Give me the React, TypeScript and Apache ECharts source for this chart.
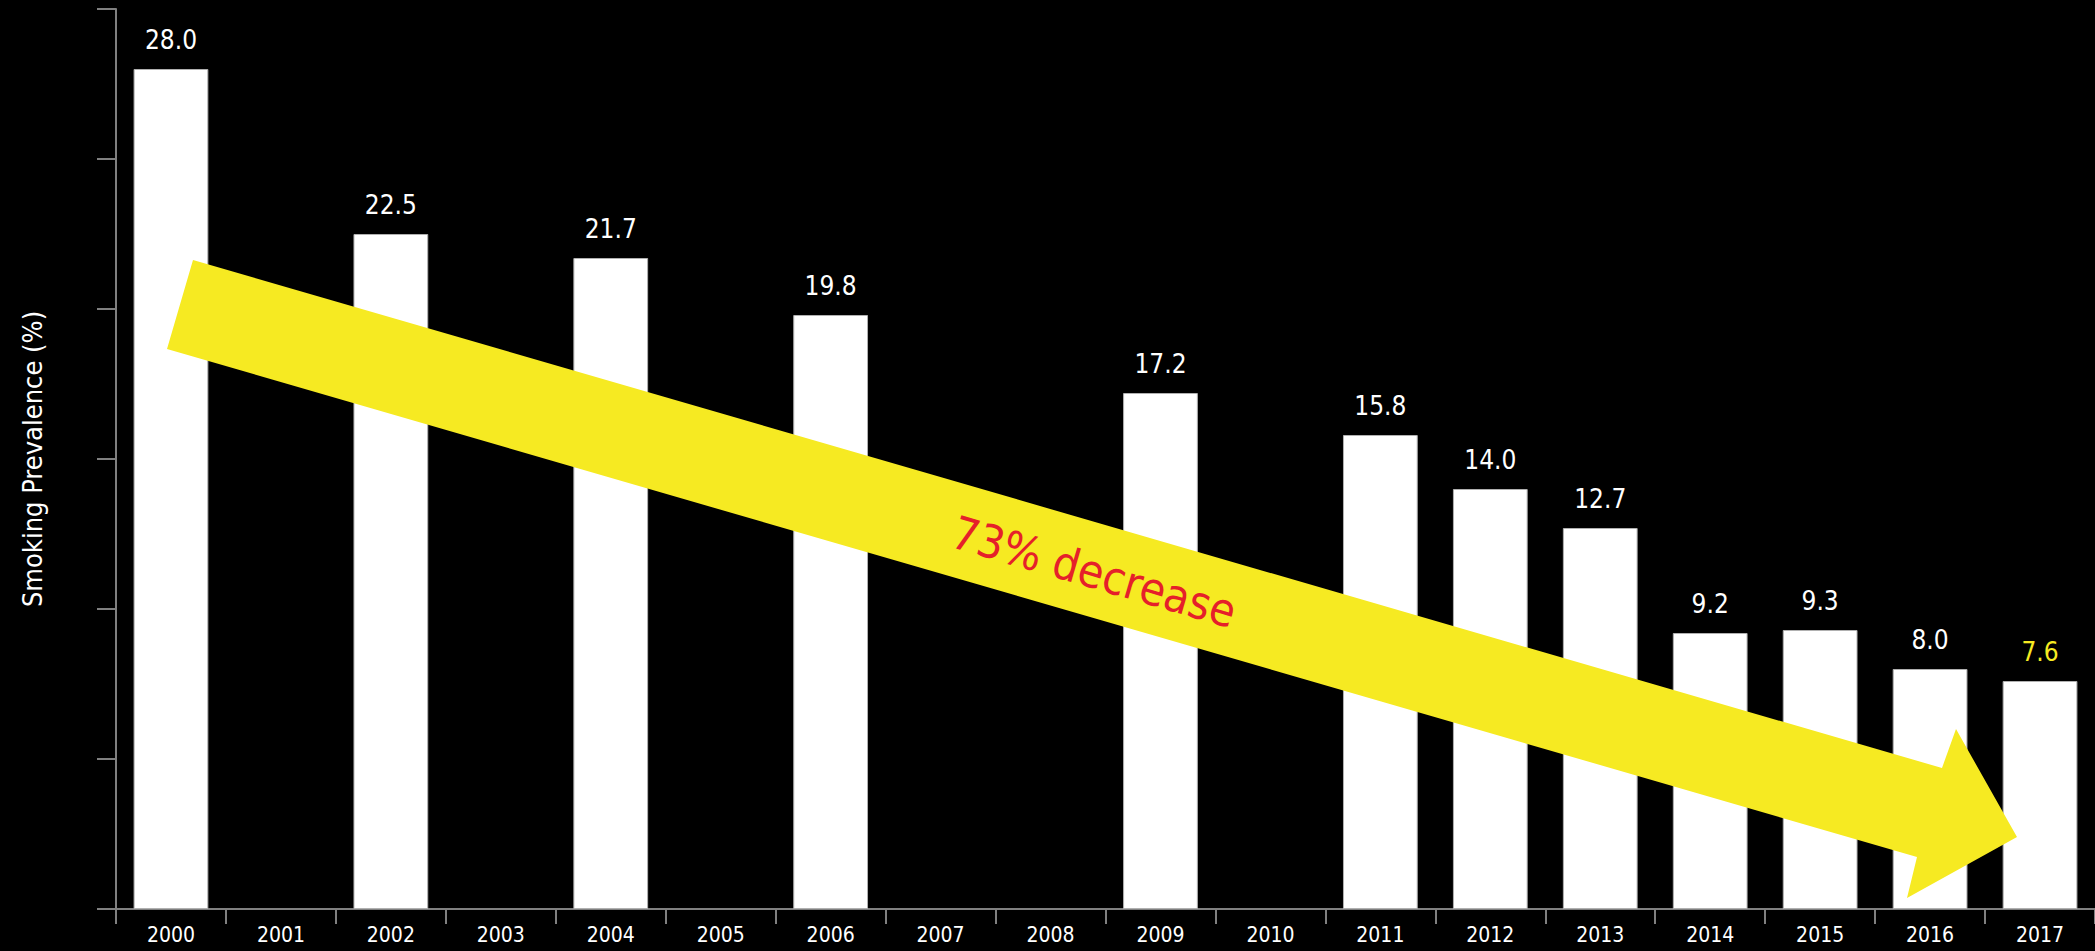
import React, { useEffect, useRef } from "react";
import * as echarts from "echarts";

const years = ["2000","2001","2002","2003","2004","2005","2006","2007","2008","2009","2010","2011","2012","2013","2014","2015","2016","2017"];
const prevalence: (number | null)[] = [28.0, null, 22.5, null, 21.7, null, 19.8, null, null, 17.2, null, 15.8, 14.0, 12.7, 9.2, 9.3, 8.0, 7.6];
const highlightYear = "2017";
const yTicks = { min: 0, max: 30, interval: 5 };
const annotationText = "73% decrease";

const FONT = '"Liberation Sans Narrow", "DejaVu Sans Condensed", "Roboto", sans-serif';
const AXIS_GRAY = "#808080";
const YELLOW = "#F6EA22";

export default function App() {
  const ref = useRef<HTMLDivElement>(null);
  useEffect(() => {
    document.body.style.margin = "0";
    document.body.style.background = "#000";
    if (!ref.current) return;
    const chart = echarts.init(ref.current, undefined, { renderer: "svg" });
    const data = prevalence.map((v, i) => ({
      value: v === null ? "-" : v,
      label: years[i] === highlightYear ? { color: YELLOW } : undefined,
    }));
    chart.setOption({
      animation: false,
      backgroundColor: "#000",
      grid: { left: 116, right: 0, top: 9, bottom: 42, containLabel: false },
      xAxis: {
        type: "category",
        data: years,
        axisLine: { show: true, lineStyle: { color: AXIS_GRAY, width: 2 } },
        axisTick: { show: true, length: 15, lineStyle: { color: AXIS_GRAY, width: 2 } },
        axisLabel: { color: "#fff", fontSize: 21, fontFamily: FONT, margin: 15, interval: 0 },
        splitLine: { show: false },
      },
      yAxis: {
        type: "value",
        min: yTicks.min,
        max: yTicks.max,
        interval: yTicks.interval,
        name: "Smoking Prevalence (%)",
        nameLocation: "middle",
        nameGap: 70,
        nameTextStyle: { color: "#fff", fontSize: 27, fontFamily: FONT },
        axisLine: { show: true, lineStyle: { color: AXIS_GRAY, width: 2 } },
        axisTick: { show: true, length: 19, lineStyle: { color: AXIS_GRAY, width: 2 } },
        axisLabel: { show: false },
        splitLine: { show: false },
      },
      series: [
        {
          type: "bar",
          data,
          barWidth: "68%",
          itemStyle: { color: "#fff", borderColor: "#b0b0b0", borderWidth: 1 },
          label: {
            show: true,
            position: "top",
            distance: 16,
            color: "#fff",
            fontSize: 26,
            fontFamily: FONT,
            formatter: (p: any) => Number(p.value).toFixed(1),
          },
        },
      ],
      graphic: [
        {
          type: "polygon",
          z: 100,
          shape: {
            points: [
              [193, 260],
              [1942, 768],
              [1956, 729],
              [2017, 837],
              [1907, 898],
              [1917, 857],
              [167, 349],
            ],
          },
          style: { fill: YELLOW },
        },
        {
          type: "text",
          z: 101,
          x: 1094,
          y: 572,
          rotation: -0.283,
          style: {
            text: annotationText,
            fill: "#E5202A",
            fontSize: 46,
            fontFamily: FONT,
            align: "center",
            verticalAlign: "middle",
          },
        },
      ],
    });
    return () => chart.dispose();
  }, []);
  return <div ref={ref} style={{ width: 2095, height: 951 }} />;
}
